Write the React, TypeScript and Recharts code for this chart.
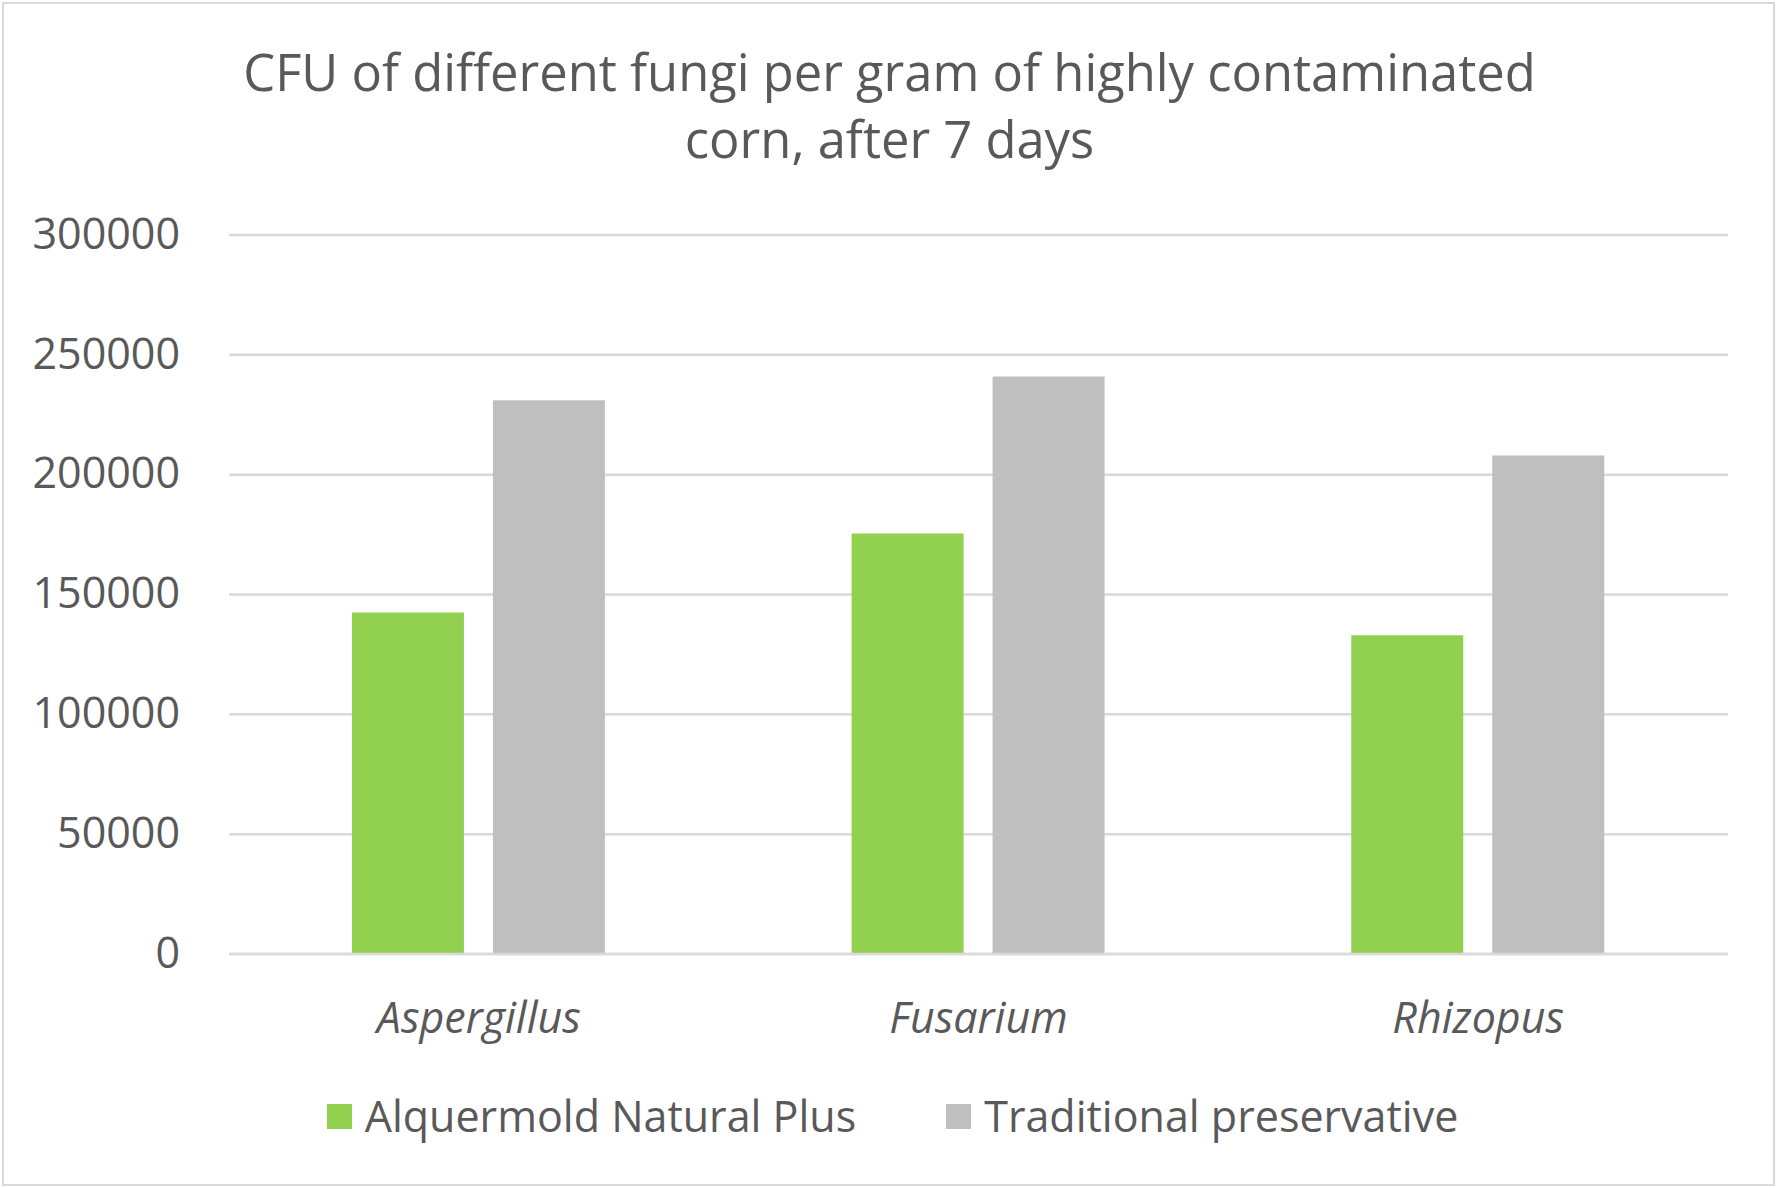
import { BarChart, Bar, XAxis, YAxis, CartesianGrid, Legend } from "recharts";

const fungi = ["Aspergillus", "Fusarium", "Rhizopus"];
const alquermold = [142500, 175500, 133000];
const traditional = [231000, 241000, 208000];
const yTicks = [0, 50000, 100000, 150000, 200000, 250000, 300000];

const seriesNames = ["Alquermold Natural Plus", "Traditional preservative"];
const seriesColors = ["#92d050", "#bfbfbf"];

const data = fungi.map((name, i) => ({
  name,
  alquermold: alquermold[i],
  traditional: traditional[i],
}));

const FONT = "'Open Sans', sans-serif";
const TEXT = "#595959";
const GRID = "#d9d9d9";

function CategoryTick({ x, y, payload }: any) {
  return (
    <text
      x={x}
      y={y}
      dy={79}
      textAnchor="middle"
      fill={TEXT}
      fontFamily={FONT}
      fontSize={43}
      fontStyle="italic"
    >
      {payload.value}
    </text>
  );
}

function ValueTick({ x, y, payload }: any) {
  return (
    <text
      x={x}
      y={y}
      dy="0.32em"
      textAnchor="end"
      fill={TEXT}
      fontFamily={FONT}
      fontSize={43}
    >
      {payload.value}
    </text>
  );
}

function LegendBox() {
  return (
    <div
      style={{
        display: "flex",
        justifyContent: "center",
        alignItems: "center",
        height: 60,
        paddingLeft: 6,
        fontFamily: FONT,
        fontSize: 43,
        color: TEXT,
      }}
    >
      {seriesNames.map((n, i) => (
        <div key={n} style={{ display: "flex", alignItems: "center", marginLeft: i ? 90 : 0 }}>
          <span style={{ width: 25, height: 25, background: seriesColors[i], marginRight: 13 }} />
          <span style={{ lineHeight: "60px" }}>{n}</span>
        </div>
      ))}
    </div>
  );
}

export default function App() {
  return (
    <div style={{ position: "absolute", left: 0, top: 0, width: 1779, height: 1188, background: "#fff" }}>
      <div
        style={{
          position: "absolute",
          left: 2,
          top: 2,
          width: 1769,
          height: 1180,
          border: `2px solid ${GRID}`,
        }}
      />
      <div
        style={{
          position: "absolute",
          left: 0,
          top: 38,
          width: 1779,
          textAlign: "center",
          fontFamily: FONT,
          fontSize: 50.7,
          lineHeight: "67px",
          color: TEXT,
        }}
      >
        CFU of different fungi per gram of highly contaminated
        <br />
        corn, after 7 days
      </div>
      <BarChart
        width={1779}
        height={1188}
        data={data}
        margin={{ top: 235, right: 51, left: 0, bottom: 0 }}
        barCategoryGap="24.6%"
        barGap={29}
      >
        <CartesianGrid vertical={false} stroke={GRID} strokeWidth={2.5} />
        <XAxis
          dataKey="name"
          height={174}
          tick={<CategoryTick />}
          tickLine={false}
          tickSize={0}
          tickMargin={0}
          axisLine={{ stroke: GRID, strokeWidth: 2.5 }}
        />
        <YAxis
          width={229}
          domain={[0, 300000]}
          ticks={yTicks}
          tick={<ValueTick />}
          tickLine={false}
          tickSize={0}
          tickMargin={49}
          axisLine={false}
        />
        <Legend
          content={<LegendBox />}
          verticalAlign="bottom"
          wrapperStyle={{ top: 1086, bottom: "auto", left: 0, width: 1779, height: 60 }}
        />
        <Bar dataKey="alquermold" name={seriesNames[0]} fill={seriesColors[0]} isAnimationActive={false} />
        <Bar dataKey="traditional" name={seriesNames[1]} fill={seriesColors[1]} isAnimationActive={false} />
      </BarChart>
    </div>
  );
}
